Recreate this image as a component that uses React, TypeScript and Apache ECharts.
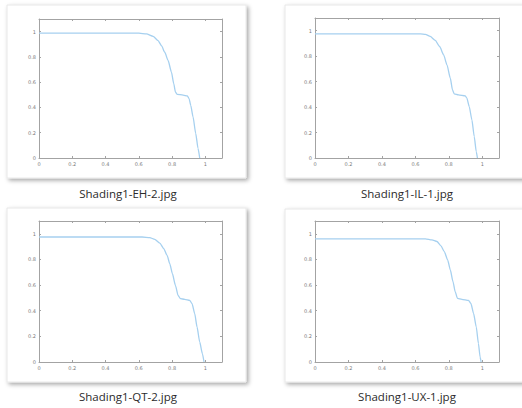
import React, { useEffect, useRef } from "react";
import * as echarts from "echarts";

// File names shown under each thumbnail
const fileNames = [
  "Shading1-EH-2.jpg",
  "Shading1-IL-1.jpg",
  "Shading1-QT-2.jpg",
  "Shading1-UX-1.jpg",
];

// Axis tick values (both axes run 0 .. 1.1)
const tickValues = [0, 0.2, 0.4, 0.6, 0.8, 1];

// Curves, as [x, y] pairs
const curveEH2: [number, number][] = [
  [0, 0.988], [0.6, 0.988], [0.646, 0.982], [0.686, 0.963], [0.716, 0.929],
  [0.736, 0.89], [0.756, 0.837], [0.776, 0.772], [0.796, 0.68], [0.81, 0.588],
  [0.82, 0.522], [0.83, 0.504], [0.866, 0.498], [0.892, 0.491], [0.902, 0.47],
  [0.912, 0.417], [0.926, 0.325], [0.942, 0.194], [0.956, 0.076], [0.966, 0],
];
const curveIL1: [number, number][] = [
  [0, 0.976], [0.63, 0.976], [0.66, 0.971], [0.689, 0.955], [0.719, 0.924],
  [0.745, 0.876], [0.769, 0.811], [0.789, 0.732], [0.809, 0.627], [0.822, 0.535],
  [0.832, 0.504], [0.858, 0.496], [0.898, 0.488], [0.908, 0.47], [0.922, 0.404],
  [0.938, 0.299], [0.952, 0.168], [0.964, 0.05], [0.971, 0],
];
const curveQT2: [number, number][] = [
  [0, 0.975], [0.62, 0.975], [0.666, 0.97], [0.696, 0.957], [0.726, 0.928],
  [0.75, 0.885], [0.77, 0.832], [0.786, 0.767], [0.802, 0.689], [0.82, 0.598],
  [0.836, 0.52], [0.85, 0.494], [0.876, 0.489], [0.906, 0.481], [0.92, 0.455],
  [0.936, 0.377], [0.95, 0.273], [0.966, 0.156], [0.982, 0.066], [0.992, 0],
];
const curveUX1: [number, number][] = [
  [0, 0.961], [0.66, 0.961], [0.699, 0.953], [0.729, 0.94], [0.753, 0.906],
  [0.773, 0.861], [0.793, 0.796], [0.809, 0.718], [0.825, 0.627], [0.838, 0.548],
  [0.852, 0.496], [0.878, 0.489], [0.918, 0.481], [0.932, 0.457], [0.948, 0.379],
  [0.964, 0.274], [0.977, 0.144], [0.987, 0.039], [0.993, 0],
];
const curves = [curveEH2, curveIL1, curveQT2, curveUX1];

// Layout of each thumbnail: card box, plot box, caption position
const panels = [
  { card: [7, 5, 239, 173], plot: [39, 19, 183, 139], caption: [128, 193] },
  { card: [285, 5, 260, 173], plot: [315, 18, 184, 140], caption: [407, 193] },
  { card: [7, 208, 239, 174], plot: [39, 221, 183, 141], caption: [128, 396] },
  { card: [285, 209, 260, 173], plot: [315, 221, 184, 141], caption: [407, 396] },
];

const axisColor = "#a3a3a3";
const labelColor = "#7a7a7a";
const lineColor = "#a6d0ef";

export default function App() {
  const ref = useRef<HTMLDivElement>(null);

  useEffect(() => {
    if (!ref.current) return;
    const chart = echarts.init(ref.current, undefined, { renderer: "svg" });

    const grid: any[] = [];
    const xAxis: any[] = [];
    const yAxis: any[] = [];
    const series: any[] = [];
    const graphic: any[] = [];

    const fmt = (v: number) =>
      tickValues.some((t) => Math.abs(t - v) < 1e-6) ? String(Math.round(v * 10) / 10) : "";

    panels.forEach((p, i) => {
      const [l, t, w, h] = p.plot;
      grid.push({ left: l, top: t, width: w, height: h, containLabel: false });

      const base = {
        type: "value",
        gridIndex: i,
        min: 0,
        max: 1.1,
        interval: 0.2,
        splitLine: { show: false },
        axisLine: { show: true, onZero: false, lineStyle: { color: axisColor, width: 1 } },
        axisTick: { show: true, inside: true, length: 2, lineStyle: { color: axisColor } },
      };
      const shownLabel = {
        show: true,
        fontSize: 5,
        fontFamily: "DejaVu Sans",
        color: labelColor,
        margin: 3,
        formatter: fmt,
        showMaxLabel: false,
      };

      xAxis.push({ ...base, position: "bottom", axisLabel: shownLabel });
      xAxis.push({ ...base, position: "top", axisLabel: { show: false } });
      yAxis.push({ ...base, position: "left", axisLabel: shownLabel });
      yAxis.push({ ...base, position: "right", axisLabel: { show: false } });

      series.push({
        type: "line",
        xAxisIndex: i * 2,
        yAxisIndex: i * 2,
        data: curves[i],
        showSymbol: false,
        smooth: 0.2,
        smoothMonotone: "x",
        lineStyle: { color: lineColor, width: 1.3 },
        clip: true,
      });

      const [cx, cy, cw, ch] = p.card;
      graphic.push({
        type: "rect",
        z: -10,
        shape: { x: cx, y: cy, width: cw, height: ch },
        style: {
          fill: "#ffffff",
          stroke: "#e8e8e8",
          lineWidth: 1,
          shadowBlur: 4,
          shadowOffsetX: 2,
          shadowOffsetY: 2,
          shadowColor: "rgba(0,0,0,0.35)",
        },
      });
      graphic.push({
        type: "text",
        z: 10,
        x: p.caption[0],
        y: p.caption[1],
        style: {
          text: fileNames[i],
          fill: "#2b2b2b",
          font: '11.5px "Open Sans", sans-serif',
          textAlign: "center",
          textVerticalAlign: "middle",
        },
      });
    });

    chart.setOption({
      animation: false,
      backgroundColor: "#ffffff",
      grid,
      xAxis,
      yAxis,
      series,
      graphic,
    });

    return () => chart.dispose();
  }, []);

  return (
    <div
      ref={ref}
      style={{ position: "fixed", left: 0, top: 0, width: 522, height: 408 }}
    />
  );
}
